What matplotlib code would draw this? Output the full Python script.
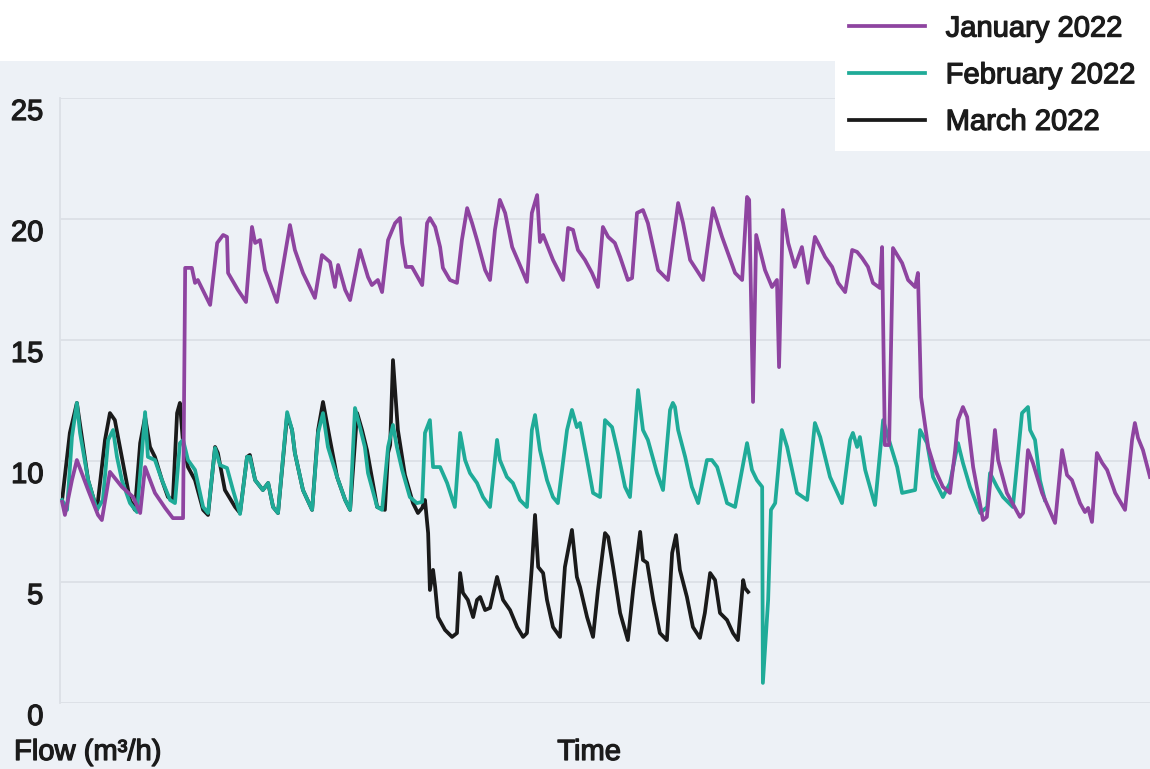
import numpy as np
import matplotlib.pyplot as plt
import matplotlib.patheffects as pe
from matplotlib.patches import Rectangle

# time axis in days, flow in m3/h
jan_day = [0.06, 0.14, 0.34, 0.48, 0.80, 1.08, 1.19, 1.42, 1.76, 2.08,
           2.28, 2.42, 2.70, 2.99, 3.21, 3.50, 3.56, 3.75, 3.84, 3.92,
           4.27, 4.47, 4.64, 4.75, 4.78, 5.06, 5.29, 5.46, 5.55, 5.69,
           5.83, 6.17, 6.54, 6.68, 6.91, 7.25, 7.45, 7.68, 7.82, 7.91,
           8.11, 8.25, 8.53, 8.76, 8.87, 9.04, 9.16, 9.33, 9.53, 9.67,
           9.73, 9.84, 10.01, 10.30, 10.44, 10.52, 10.67, 10.81, 10.89, 11.09,
           11.29, 11.43, 11.58, 11.72, 11.86, 12.09, 12.23, 12.37, 12.51, 12.66,
           12.86, 13.14, 13.28, 13.42, 13.57, 13.65, 13.74, 14.02, 14.31, 14.45,
           14.59, 14.73, 14.93, 15.13, 15.30, 15.44, 15.59, 15.78, 15.93, 16.15,
           16.27, 16.41, 16.58, 16.72, 17.01, 17.29, 17.58, 17.72, 17.92, 18.29,
           18.57, 18.83, 19.20, 19.40, 19.54, 19.60, 19.71, 19.80, 20.05, 20.25,
           20.39, 20.45, 20.56, 20.71, 20.90, 21.10, 21.27, 21.47, 21.62, 21.76,
           21.96, 22.13, 22.33, 22.53, 22.67, 22.81, 22.98, 23.12, 23.32, 23.38,
           23.46, 23.58, 23.69, 23.95, 24.12, 24.32, 24.40, 24.49, 24.69, 24.89,
           25.11, 25.31, 25.46, 25.54, 25.68, 25.80, 25.97, 26.25, 26.36, 26.51,
           26.59, 26.68, 26.93, 27.30, 27.39, 27.53, 27.67, 27.93, 28.30, 28.50,
           28.64, 28.78, 29.01, 29.15, 29.24, 29.35, 29.49, 29.64, 29.78, 30.01,
           30.29, 30.49, 30.57, 30.66, 30.80, 31.00]
jan_flow = [8.31, 7.77, 9.21, 10.04, 8.80, 7.77, 7.56, 9.55, 8.93, 8.51,
            7.85, 9.75, 8.68, 8.06, 7.64, 7.64, 17.98, 17.98, 17.36, 17.48,
            16.45, 19.01, 19.34, 19.26, 17.77, 17.07, 16.57, 19.67, 19.01, 19.13,
            17.89, 16.57, 19.75, 18.72, 17.77, 16.74, 18.51, 18.22, 17.19, 18.10,
            17.07, 16.65, 18.72, 17.60, 17.27, 17.48, 16.98, 19.13, 19.83, 20.04,
            19.01, 18.02, 18.02, 17.27, 19.83, 20.04, 19.67, 18.84, 17.98, 17.48,
            17.36, 19.13, 20.45, 19.83, 19.13, 17.89, 17.48, 19.55, 20.79, 20.25,
            18.84, 17.89, 17.40, 20.25, 20.99, 19.05, 19.34, 18.31, 17.48, 19.63,
            19.55, 18.72, 18.31, 17.77, 17.19, 19.67, 19.26, 19.01, 18.43, 17.48,
            17.56, 20.25, 20.37, 19.83, 17.89, 17.48, 20.66, 19.83, 18.31, 17.48,
            20.45, 19.26, 17.77, 17.48, 20.91, 20.79, 12.44, 19.34, 17.89, 17.19,
            17.48, 13.88, 20.37, 19.01, 18.02, 18.84, 17.36, 19.26, 18.84, 18.43,
            18.02, 17.36, 16.98, 18.72, 18.64, 18.39, 18.02, 17.36, 17.15, 18.84,
            10.66, 10.66, 18.80, 18.18, 17.48, 17.19, 17.77, 12.64, 10.58, 9.63,
            8.93, 8.68, 10.45, 11.69, 12.23, 11.82, 9.75, 7.56, 7.69, 9.92,
            11.28, 10.04, 8.68, 7.69, 7.85, 10.45, 9.92, 8.68, 7.44, 10.45,
            9.42, 9.21, 8.26, 7.89, 8.06, 7.48, 10.33, 9.92, 9.63, 8.68,
            7.98, 10.87, 11.57, 10.95, 10.45, 9.34]

feb_day = [0.06, 0.20, 0.34, 0.48, 0.57, 0.80, 1.05, 1.22, 1.37, 1.51,
           1.62, 1.76, 1.99, 2.19, 2.33, 2.42, 2.50, 2.70, 2.90, 3.13,
           3.27, 3.41, 3.50, 3.64, 3.84, 4.07, 4.21, 4.41, 4.55, 4.75,
           4.92, 5.12, 5.32, 5.40, 5.55, 5.77, 5.92, 6.06, 6.20, 6.46,
           6.60, 6.68, 6.91, 7.17, 7.34, 7.48, 7.62, 7.88, 8.11, 8.25,
           8.39, 8.53, 8.67, 8.76, 9.02, 9.16, 9.33, 9.47, 9.58, 9.73,
           9.95, 10.15, 10.30, 10.38, 10.52, 10.61, 10.81, 11.01, 11.23, 11.38,
           11.52, 11.66, 11.86, 12.03, 12.23, 12.43, 12.51, 12.71, 12.88, 13.08,
           13.28, 13.42, 13.51, 13.65, 13.85, 14.02, 14.16, 14.42, 14.56, 14.70,
           14.79, 14.99, 15.16, 15.36, 15.50, 15.70, 15.87, 16.07, 16.21, 16.44,
           16.58, 16.72, 16.98, 17.15, 17.35, 17.43, 17.49, 17.58, 17.78, 17.97,
           18.15, 18.40, 18.54, 18.69, 18.77, 18.97, 19.20, 19.54, 19.68, 19.82,
           19.97, 19.99, 20.14, 20.22, 20.34, 20.53, 20.68, 20.96, 21.25, 21.47,
           21.62, 21.90, 22.24, 22.47, 22.55, 22.67, 22.75, 22.90, 23.18, 23.41,
           23.55, 23.81, 23.95, 24.32, 24.46, 24.66, 24.83, 25.11, 25.31, 25.54,
           25.68, 25.88, 26.17, 26.37, 26.45, 26.65, 26.82, 27.10, 27.36, 27.53,
           27.59, 27.73, 27.87, 28.01]
feb_flow = [8.39, 7.98, 10.99, 12.40, 11.16, 9.21, 7.98, 8.39, 10.87, 11.28,
            10.17, 9.21, 8.26, 7.89, 10.33, 12.02, 10.17, 10.04, 9.21, 8.39,
            8.26, 10.74, 10.87, 10.04, 9.63, 8.10, 7.85, 10.54, 9.83, 9.71,
            8.80, 7.81, 10.17, 10.17, 9.21, 8.80, 9.09, 8.10, 7.85, 12.02,
            11.28, 10.33, 8.80, 7.98, 11.16, 11.98, 10.58, 9.34, 8.39, 7.98,
            12.19, 11.40, 10.58, 9.50, 8.10, 7.98, 10.58, 11.49, 10.58, 9.63,
            8.51, 8.26, 8.31, 11.16, 11.69, 9.75, 9.75, 9.09, 8.10, 11.16,
            10.04, 9.50, 9.09, 8.51, 8.10, 10.87, 10.04, 9.34, 9.09, 8.39,
            8.10, 11.28, 11.90, 10.45, 9.21, 8.51, 8.26, 11.28, 12.11, 11.40,
            11.57, 10.04, 8.68, 8.51, 11.69, 11.40, 10.33, 8.93, 8.51, 12.93,
            11.28, 10.87, 9.50, 8.80, 12.11, 12.40, 12.23, 11.28, 10.17, 8.93,
            8.26, 10.04, 10.04, 9.75, 9.34, 8.26, 8.10, 10.74, 9.63, 9.21,
            8.93, 0.83, 4.26, 7.98, 8.26, 11.28, 10.58, 8.68, 8.39, 11.57,
            10.99, 9.34, 8.26, 10.87, 11.16, 10.58, 10.99, 9.63, 8.18, 11.69,
            10.99, 9.75, 8.68, 8.80, 11.28, 10.74, 9.34, 8.51, 9.09, 10.74,
            9.92, 8.93, 7.85, 8.10, 9.50, 8.93, 8.51, 8.10, 11.98, 12.23,
            11.28, 10.87, 9.21, 8.39]

mar_day = [0.06, 0.28, 0.48, 0.80, 1.05, 1.28, 1.42, 1.56, 1.65, 1.79,
           1.99, 2.13, 2.28, 2.42, 2.56, 2.70, 2.90, 3.07, 3.21, 3.33,
           3.41, 3.50, 3.64, 3.84, 4.07, 4.21, 4.41, 4.49, 4.69, 4.98,
           5.12, 5.32, 5.40, 5.55, 5.77, 5.92, 6.06, 6.20, 6.46, 6.60,
           6.68, 6.91, 7.17, 7.34, 7.48, 7.68, 7.88, 8.11, 8.25, 8.45,
           8.59, 8.73, 9.02, 9.24, 9.33, 9.39, 9.47, 9.61, 9.81, 10.04,
           10.18, 10.30, 10.38, 10.47, 10.52, 10.61, 10.67, 10.75, 10.95, 11.15,
           11.29, 11.38, 11.46, 11.60, 11.75, 11.86, 11.95, 12.09, 12.23, 12.43,
           12.60, 12.80, 13.00, 13.17, 13.28, 13.42, 13.51, 13.60, 13.74, 13.85,
           14.02, 14.22, 14.36, 14.56, 14.70, 14.79, 14.99, 15.16, 15.30, 15.50,
           15.59, 15.73, 15.93, 16.15, 16.30, 16.50, 16.58, 16.70, 16.87, 17.06,
           17.26, 17.41, 17.52, 17.63, 17.83, 18.00, 18.20, 18.34, 18.49, 18.63,
           18.77, 18.97, 19.14, 19.28, 19.43, 19.48, 19.57]
mar_flow = [8.39, 11.16, 12.40, 9.21, 7.98, 10.87, 11.98, 11.69, 10.99, 9.92,
            8.39, 7.98, 10.74, 11.82, 10.58, 10.17, 9.21, 8.51, 8.39, 11.98,
            12.40, 10.74, 9.75, 9.21, 7.98, 7.77, 10.58, 10.33, 8.80, 8.10,
            7.85, 10.17, 10.25, 9.21, 8.80, 9.09, 8.10, 7.85, 11.90, 11.28,
            10.33, 8.80, 7.98, 11.28, 12.44, 10.87, 9.34, 8.39, 7.98, 11.98,
            11.28, 10.45, 8.10, 7.98, 10.33, 10.66, 14.17, 11.28, 9.42, 8.26,
            7.85, 8.06, 8.39, 7.02, 4.67, 5.50, 4.79, 3.55, 3.02, 2.73,
            2.89, 5.37, 4.55, 4.26, 3.55, 4.26, 4.38, 3.84, 3.93, 5.21,
            4.26, 3.84, 3.14, 2.73, 2.89, 5.62, 7.77, 5.62, 5.37, 4.26,
            3.14, 2.73, 5.62, 7.15, 5.21, 4.79, 3.55, 2.73, 4.67, 7.02,
            6.86, 5.62, 3.72, 2.60, 4.67, 7.07, 5.91, 5.79, 4.26, 2.89,
            2.60, 6.20, 6.94, 5.50, 4.38, 3.14, 2.69, 3.72, 5.37, 5.08,
            3.72, 3.43, 2.89, 2.60, 5.08, 4.75, 4.59]

y_ticks = [0, 5, 10, 15, 20, 25]
y_labels = ["0", "5", "10", "15", "20", "25"]

bg = "#edf1f6"
grid_c = "#dce0e6"
text_c = "#1b1b1b"
jan_c = "#8e44a0"
feb_c = "#1fab98"
mar_c = "#1a1a1a"

plt.rcParams["font.family"] = ["Liberation Sans", "DejaVu Sans"]
# a thin stroke gives the text the medium weight seen in the reference
heavy = [pe.withStroke(linewidth=0.9, foreground=text_c)]

fig = plt.figure(figsize=(11.5, 7.69), dpi=100, facecolor=bg)
# white strip along the top edge
fig.patches.append(Rectangle((0, 708 / 769), 1, 61 / 769, transform=fig.transFigure,
                             facecolor="white", edgecolor="none", zorder=0))

ax = fig.add_axes([60 / 1150, 66 / 769, 1090 / 1150, 605 / 769])
ax.set_facecolor(bg)

l_mar, = ax.plot(mar_day, mar_flow, color=mar_c, lw=2.7, zorder=2, solid_joinstyle="round")
l_feb, = ax.plot(feb_day, feb_flow, color=feb_c, lw=2.7, zorder=3, solid_joinstyle="round")
l_jan, = ax.plot(jan_day, jan_flow, color=jan_c, lw=2.7, zorder=4, solid_joinstyle="round")

ax.set_xlim(0, 31)
ax.set_ylim(0, 25)
ax.set_xticks([])
ax.set_yticks(y_ticks)
ax.set_yticklabels(y_labels, fontsize=21, color=text_c)
plt.setp(ax.get_yticklabels(), va="top", path_effects=heavy)
ax.tick_params(axis="y", length=0, pad=12)
ax.grid(axis="y", color=grid_c, lw=1.3)
for side in ["top", "right", "bottom"]:
    ax.spines[side].set_visible(False)
ax.spines["left"].set_color(grid_c)
ax.spines["left"].set_linewidth(1.3)

leg = fig.legend([l_jan, l_feb, l_mar], ["January 2022", "February 2022", "March 2022"],
                 loc="upper right", bbox_to_anchor=(1, 1), frameon=True, fancybox=False,
                 facecolor="white", edgecolor="none", framealpha=1, fontsize=21,
                 handlelength=2.6, handletextpad=0.7, labelspacing=0.64,
                 borderpad=0.5, borderaxespad=0)
for t in leg.get_texts():
    t.set_color(text_c)
    t.set_path_effects(heavy)

fig.text(14 / 1150, 1 - 752 / 769, "Flow (m³/h)", ha="left", va="center", fontsize=21,
         color=text_c, path_effects=heavy)
fig.text(589 / 1150, 1 - 752 / 769, "Time", ha="center", va="center", fontsize=21,
         color=text_c, path_effects=heavy)

fig.savefig("out.png", dpi=100, facecolor=fig.get_facecolor())
